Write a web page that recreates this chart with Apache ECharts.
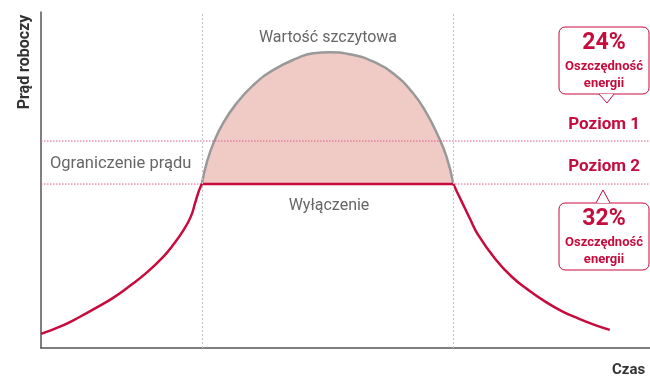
<!DOCTYPE html>
<html>
<head>
<meta charset="utf-8">
<script src="https://cdn.jsdelivr.net/npm/echarts@6/dist/echarts.min.js"></script>
<style>
  html, body { margin: 0; padding: 0; background: #fff; }
  #chart { width: 650px; height: 376px; }
</style>
</head>
<body>
<div id="chart"></div>
<script>
// Time on x (0..100), working current on y (0..100), arbitrary units.
const peakStart = 26.4;   // current reaches the limit
const peakEnd = 67.7;     // current falls back below the limit
const level1 = 61.6;      // "Poziom 1"
const level2 = 48.8;      // "Poziom 2" = current limit

// Unlimited demand curve during the peak
const peakX = [26.4, 27.2, 28.3, 29.9, 32.1, 34.9, 38.1, 42.0, 44.7, 47.5, 51.3, 54.6, 57.8, 61.1, 63.3, 65.0, 66.6, 67.7];
const peakY = [48.8, 55.0, 60.9, 66.9, 72.8, 78.3, 82.7, 86.2, 87.7, 88.0, 87.2, 85.2, 81.8, 75.8, 69.9, 63.9, 56.9, 48.8];

// Current rising towards the limit
const riseX = [0, 3.7, 6.4, 9.1, 11.9, 14.6, 17.4, 20.1, 21.7, 23.4, 24.6, 25.3, 25.9, 26.4];
const riseY = [4.2, 6.8, 9.3, 12.0, 15.0, 18.5, 22.5, 27.2, 30.7, 35.1, 39.1, 43.1, 46.6, 48.8];

// Current falling after the peak
const fallX = [67.7, 68.3, 69.1, 70.4, 71.8, 74.5, 77.3, 80.0, 82.8, 85.5, 88.2, 91.0, 93.4];
const fallY = [48.8, 46.5, 43.5, 38.6, 33.6, 26.7, 21.2, 17.3, 13.8, 11.0, 8.8, 6.8, 5.4];

const savings = ['24%', '32%'];
const savingsText = ['Oszczędność', 'energii'];
const levelNames = ['Poziom 1', 'Poziom 2'];

const RED = '#c60b3d';
const PINK_DOTS = '#e0578a';
const GRAY_TEXT = '#666666';
const FONT = 'Roboto, "Liberation Sans", sans-serif';

const zip = (xs, ys) => xs.map((x, i) => [x, ys[i]]);

function callout(x, y, w, h, tipX, tipY, baseL, baseR, pct) {
  const down = tipY > y + h;
  const baseY = down ? y + h : y;
  return {
    type: 'group',
    z: 20,
    children: [
      { type: 'rect', shape: { x: x, y: y, width: w, height: h, r: 6 },
        style: { fill: '#fff', stroke: RED, lineWidth: 1 } },
      { type: 'polygon', shape: { points: [[baseL, baseY], [tipX, tipY], [baseR, baseY]] },
        style: { fill: '#fff', stroke: null } },
      { type: 'polyline', shape: { points: [[baseL, baseY], [tipX, tipY], [baseR, baseY]] },
        style: { fill: null, stroke: RED, lineWidth: 1 } },
      { type: 'text', x: x + w / 2, y: y + 16,
        style: { text: pct, fill: RED, font: 'bold 23px ' + FONT, align: 'center', verticalAlign: 'middle' } },
      { type: 'text', x: x + w / 2, y: y + 40,
        style: { text: savingsText[0], fill: RED, font: 'bold 13px ' + FONT, align: 'center', verticalAlign: 'middle' } },
      { type: 'text', x: x + w / 2, y: y + 57,
        style: { text: savingsText[1], fill: RED, font: 'bold 13px ' + FONT, align: 'center', verticalAlign: 'middle' } }
    ]
  };
}

function levelLine(name, value) {
  return {
    name: name,
    type: 'line',
    data: [[0, value], [100, value]],
    showSymbol: false,
    silent: true,
    z: 3,
    lineStyle: { color: PINK_DOTS, type: [1.5, 1.5], width: 1 }
  };
}

const chart = echarts.init(document.getElementById('chart'), null, { renderer: 'canvas' });

const curve = {
  type: 'line',
  smooth: 0.5,
  showSymbol: false
};

chart.setOption({
  animation: false,
  backgroundColor: '#fff',
  grid: { left: 41, right: 0, top: 12, bottom: 28 },
  xAxis: {
    type: 'value', min: 0, max: 100,
    axisLine: { show: true, lineStyle: { color: '#555', width: 1.5 } },
    axisTick: { show: false }, axisLabel: { show: false }, splitLine: { show: false }
  },
  yAxis: {
    type: 'value', min: 0, max: 100,
    axisLine: { show: true, lineStyle: { color: '#555', width: 1.5 } },
    axisTick: { show: false }, axisLabel: { show: false }, splitLine: { show: false }
  },
  series: [
    {
      name: 'guides',
      type: 'line',
      data: [],
      z: 1,
      markLine: {
        silent: true,
        symbol: 'none',
        label: { show: false },
        lineStyle: { color: '#c4c4c4', type: [2, 2], width: 1 },
        data: [{ xAxis: peakStart }, { xAxis: peakEnd }]
      }
    },
    Object.assign({}, curve, {
      name: 'peak',
      data: zip(peakX, peakY),
      z: 2,
      lineStyle: { color: '#999999', width: 2.5 },
      areaStyle: { color: '#f0cac5', opacity: 1, origin: level2 }
    }),
    levelLine('level1', level1),
    levelLine('level2', level2),
    Object.assign({}, curve, {
      name: 'rise',
      data: zip(riseX, riseY),
      z: 4,
      lineStyle: { color: RED, width: 2.5 }
    }),
    {
      name: 'limit',
      type: 'line',
      data: [[peakStart, level2], [peakEnd, level2]],
      showSymbol: false,
      z: 4,
      lineStyle: { color: RED, width: 2.5 }
    },
    Object.assign({}, curve, {
      name: 'fall',
      data: zip(fallX, fallY),
      z: 4,
      lineStyle: { color: RED, width: 2.5 }
    })
  ],
  graphic: [
    { type: 'text', x: 25, y: 62, rotation: Math.PI / 2,
      style: { text: 'Prąd roboczy', fill: '#333', font: 'bold 16px ' + FONT, align: 'center', verticalAlign: 'middle' } },
    { type: 'text', x: 612, y: 370,
      style: { text: 'Czas', fill: '#333', font: 'bold 15px ' + FONT, align: 'left', verticalAlign: 'middle' } },
    { type: 'text', x: 328, y: 38,
      style: { text: 'Wartość szczytowa', fill: GRAY_TEXT, font: '16px ' + FONT, align: 'center', verticalAlign: 'middle' } },
    { type: 'text', x: 50, y: 164,
      style: { text: 'Ograniczenie prądu', fill: GRAY_TEXT, font: '16.5px ' + FONT, align: 'left', verticalAlign: 'middle' } },
    { type: 'text', x: 329, y: 206,
      style: { text: 'Wyłączenie', fill: GRAY_TEXT, font: '16px ' + FONT, align: 'center', verticalAlign: 'middle' } },
    { type: 'text', x: 640, y: 125,
      style: { text: levelNames[0], fill: RED, font: 'bold 17px ' + FONT, align: 'right', verticalAlign: 'middle' } },
    { type: 'text', x: 640, y: 167,
      style: { text: levelNames[1], fill: RED, font: 'bold 17px ' + FONT, align: 'right', verticalAlign: 'middle' } },
    callout(559, 27, 90, 67, 607, 103, 599, 614, savings[0]),
    callout(559, 203, 90, 67, 603, 190, 596, 610, savings[1])
  ]
});
</script>
</body>
</html>
